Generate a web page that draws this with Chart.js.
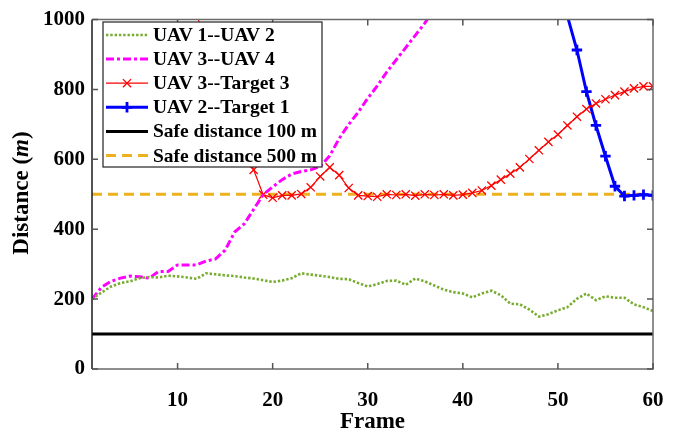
<!DOCTYPE html>
<html>
<head>
<meta charset="utf-8">
<script src="https://cdn.jsdelivr.net/npm/chart.js@4.4.1/dist/chart.umd.min.js"></script>
<style>
  body { margin: 0; background: #fff; }
</style>
</head>
<body>
<canvas id="myChart" width="689" height="435"></canvas>
<script>
const frames = [];
for (let i = 1; i <= 60; i++) frames.push(i);

const uav1uav2 = [200,219,236,246,251,260,263,262,267,265,262,258,274,271,268,266,262,259,254,249,
                  253,260,274,270,267,263,258,257,246,236,243,252,253,241,259,251,239,227,220,216,
                  205,216,224,211,187,185,170,150,157,168,177,201,216,197,208,204,204,185,177,166];
const uav3uav4 = [200,234,251,260,266,264,260,279,279,298,298,298,309,315,340,392,415,457,499,521,
                  542,558,565,570,580,610,660,700,735,775,810,850,885,920,955,990,1030,1070];
const uav3target3 = [null,null,null,null,null,null,null,null,null,null,
                     1080,1010,950,870,790,720,640,570,499,490,497,497,501,520,551,577,555,518,497,495,
                     493,500,498,500,496,500,498,500,497,499,504,511,525,542,559,577,601,626,650,671,
                     697,722,744,760,772,784,794,803,809,809];
const uav2target1 = [null,null,null,null,null,null,null,null,null,null,
                     null,null,null,null,null,null,null,null,null,null,
                     null,null,null,null,null,null,null,null,null,null,
                     null,null,null,null,null,null,null,null,null,null,
                     null,null,null,null,null,null,null,null,null,null,
                     1010,913,794,697,609,523,495,497,499,497];
const safeDistances = [100, 500];
const xTicks = [10, 20, 30, 40, 50, 60];

const serif = "'Liberation Serif', 'Times New Roman', serif";
const hideAbove = v => (c) => (c.raw > 1000 ? 0 : v);

const seriesStyle = [
  { label: 'UAV 1--UAV 2', color: '#77AC30', width: 2.6, dash: [2.4, 1.9], point: false },
  { label: 'UAV 3--UAV 4', color: '#FF00FF', width: 3, dash: [8, 3, 3, 3], point: false },
  { label: 'UAV 3--Target 3', color: '#FF0000', width: 1.2, dash: [], point: 'crossRot', r: 5.8, pw: 1.3 },
  { label: 'UAV 2--Target 1', color: '#0000FF', width: 3, dash: [], point: 'cross', r: 5.2, pw: 2.8 },
  { label: 'Safe distance 100 m', color: '#000000', width: 3, dash: [], point: false },
  { label: 'Safe distance 500 m', color: '#EDB120', width: 3, dash: [10, 6], point: false }
];

function ds(i, data) {
  const s = seriesStyle[i];
  return {
    label: s.label,
    data: data,
    borderColor: s.color,
    backgroundColor: s.color,
    borderWidth: s.width,
    borderDash: s.dash,
    borderCapStyle: 'butt',
    tension: 0,
    fill: false,
    clip: 0,
    pointStyle: s.point || 'circle',
    pointRadius: s.point ? hideAbove(s.r) : 0,
    pointHoverRadius: 0,
    pointBorderWidth: s.pw || 1,
    pointBorderColor: s.color
  };
}

// frame, inward ticks, axis titles, legend box inside the plot
const decorPlugin = {
  id: 'decor',
  afterDatasetsDraw(chart) {
    const ctx = chart.ctx;
    const a = chart.chartArea;
    const xs = chart.scales.x, ys = chart.scales.y;
    ctx.save();
    // frame
    ctx.lineWidth = 1.5;
    ctx.strokeStyle = '#6a6a6a';
    ctx.beginPath();
    ctx.moveTo(a.left, a.top); ctx.lineTo(a.right, a.top);
    ctx.lineTo(a.right, a.bottom); ctx.lineTo(a.left, a.bottom);
    ctx.stroke();
    ctx.strokeStyle = '#1a1a1a';
    ctx.beginPath();
    ctx.moveTo(a.left, a.top); ctx.lineTo(a.left, a.bottom);
    ctx.stroke();
    // ticks
    ctx.strokeStyle = '#555';
    ctx.lineWidth = 1.5;
    ctx.beginPath();
    xTicks.forEach(v => {
      const px = xs.getPixelForValue(v);
      ctx.moveTo(px, a.bottom); ctx.lineTo(px, a.bottom - 6);
      ctx.moveTo(px, a.top); ctx.lineTo(px, a.top + 6);
    });
    ys.ticks.forEach(t => {
      const py = ys.getPixelForValue(t.value);
      ctx.moveTo(a.left, py); ctx.lineTo(a.left + 6, py);
      ctx.moveTo(a.right, py); ctx.lineTo(a.right - 6, py);
    });
    ctx.stroke();

    // legend
    const lx = 103, ly = 22, lw = 219, lh = 145;
    ctx.fillStyle = '#fff';
    ctx.fillRect(lx, ly, lw, lh);
    ctx.strokeStyle = '#222';
    ctx.lineWidth = 1.2;
    ctx.strokeRect(lx, ly, lw, lh);
    ctx.font = "bold 19.5px " + serif;
    ctx.textBaseline = 'middle';
    ctx.textAlign = 'left';
    seriesStyle.forEach((s, i) => {
      const y = 35 + i * 24.1;
      ctx.strokeStyle = s.color;
      ctx.lineWidth = s.width;
      ctx.setLineDash(s.dash);
      ctx.lineCap = 'butt';
      ctx.beginPath();
      ctx.moveTo(106, y); ctx.lineTo(148, y);
      ctx.stroke();
      ctx.setLineDash([]);
      if (s.point) {
        ctx.lineWidth = s.pw;
        Chart.helpers.drawPoint(ctx, { pointStyle: s.point, radius: s.r, borderWidth: s.pw }, 127, y);
      }
      ctx.fillStyle = '#000';
      ctx.fillText(s.label, 153, y + 1);
    });

    // axis titles
    ctx.fillStyle = '#000';
    ctx.textAlign = 'center';
    ctx.font = "bold 23px " + serif;
    ctx.fillText('Frame', (a.left + a.right) / 2, 422);

    ctx.translate(22, 193);
    ctx.rotate(-Math.PI / 2);
    const p1 = 'Distance (', p2 = 'm', p3 = ')';
    ctx.font = "bold 23px " + serif;
    const w1 = ctx.measureText(p1).width, w3 = ctx.measureText(p3).width;
    ctx.font = "italic bold 23px " + serif;
    const w2 = ctx.measureText(p2).width;
    let x0 = -(w1 + w2 + w3) / 2;
    ctx.textAlign = 'left';
    ctx.font = "bold 23px " + serif;
    ctx.fillText(p1, x0, 0);
    ctx.font = "italic bold 23px " + serif;
    ctx.fillText(p2, x0 + w1, 0);
    ctx.font = "bold 23px " + serif;
    ctx.fillText(p3, x0 + w1 + w2, 0);
    ctx.restore();
  }
};

const ctx = document.getElementById('myChart').getContext('2d');
const myChart = new Chart(ctx, {
  type: 'line',
  data: {
    labels: frames,
    datasets: [
      ds(0, uav1uav2),
      ds(1, uav3uav4),
      ds(2, uav3target3),
      ds(3, uav2target1),
      ds(4, [{ x: frames[0], y: safeDistances[0] }, { x: frames[frames.length - 1], y: safeDistances[0] }]),
      ds(5, [{ x: frames[0], y: safeDistances[1] }, { x: frames[frames.length - 1], y: safeDistances[1] }])
    ]
  },
  options: {
    responsive: false,
    animation: false,
    devicePixelRatio: 1,
    layout: { padding: { top: 14, right: 36, left: 0, bottom: 0 } },
    plugins: {
      legend: { display: false },
      tooltip: { enabled: false }
    },
    scales: {
      x: {
        type: 'linear',
        min: 1,
        max: 60,
        grid: { display: false, drawTicks: false },
        border: { display: false },
        afterBuildTicks: (scale) => { scale.ticks = xTicks.map(v => ({ value: v })); },
        afterFit: (scale) => { scale.height = 66; },
        ticks: {
          color: '#000',
          padding: 19,
          maxRotation: 0,
          font: { family: serif, size: 21, weight: 'bold' }
        }
      },
      y: {
        min: 0,
        max: 1000,
        grid: { display: false, drawTicks: false },
        border: { display: false },
        afterFit: (scale) => { scale.width = 92; },
        ticks: {
          stepSize: 200,
          color: '#000',
          padding: 7,
          callback: (v) => String(v),
          font: { family: serif, size: 21, weight: 'bold' }
        }
      }
    }
  },
  plugins: [decorPlugin]
});
</script>
</body>
</html>
